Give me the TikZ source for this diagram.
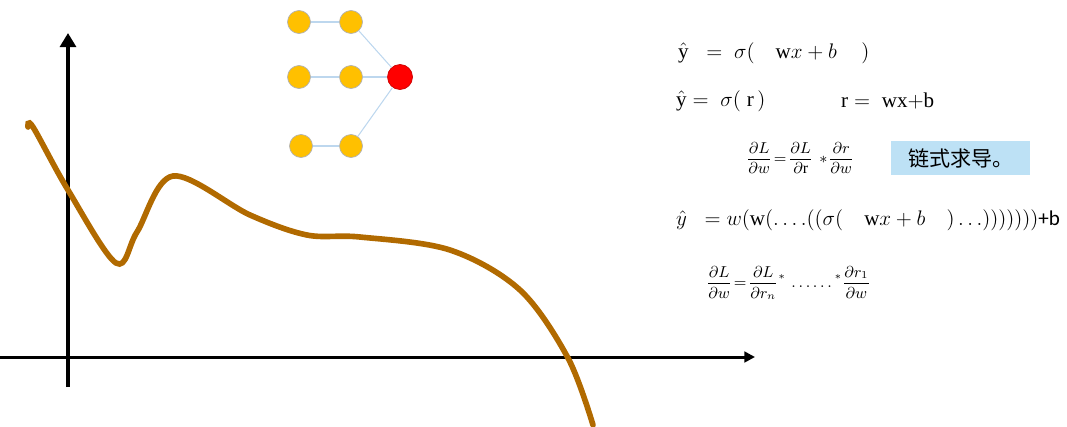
\documentclass[tikz,border=0pt]{standalone}
\usepackage{amsmath, amssymb}
\usepackage{fontspec}
\setmainfont{Liberation Serif}
\newfontfamily\cjkfont{Noto Sans CJK SC}
\newfontfamily\calfont{Carlito}
\usepackage{xcolor}
\usetikzlibrary{arrows.meta}
\definecolor{curvebrown}{RGB}{177,106,0}
\definecolor{neuronyellow}{RGB}{255,192,0}
\definecolor{linkblue}{RGB}{189,215,238}
\definecolor{boxblue}{RGB}{189,225,245}
\begin{document}
\begin{tikzpicture}
                    [x=0.02cm, y=-0.02cm, every node/.style={font=\large}, >=stealth,
                     neuron/.style={circle, fill=neuronyellow, draw=gray!60, minimum size=0.46cm, inner sep=0pt},
                     outneuron/.style={circle, fill=red, draw=red!80!black, minimum size=0.5cm, inner sep=0pt},
                     link/.style={draw=linkblue, line width=0.6pt},
                     fracrow/.style={anchor=west, font=\small}]
                    \useasboundingbox (0,0) rectangle (1067,426);
                    % axes
                    \coordinate (xs) at (0,357);
                    \coordinate (xe) at (755,357);
                    \coordinate (ys) at (68,387);
                    \coordinate (ye) at (68,33);
                    \draw[line width=1.7pt, -{Triangle[length=6pt,width=6pt]}] (xs) -- (xe);
                    \draw[line width=2.6pt, -{Triangle[length=8pt,width=9pt]}] (ys) -- (ye);
                    % loss curve
                    \draw[curvebrown, line width=3.2pt, line cap=round] plot[smooth, tension=0.55] coordinates
                        {(28,127) (33,127) (68,190) (116,263) (137,232) (173,176) (250,215) (307,235)
                         (360,237) (450,250) (520,290) (568,358) (593,425)};
                    % network
                    \node[neuron] (a1) at (299,22) {};
                    \node[neuron] (b1) at (351,22) {};
                    \node[neuron] (a2) at (299,77) {};
                    \node[neuron] (b2) at (351,77) {};
                    \node[neuron] (a3) at (301,146) {};
                    \node[neuron] (b3) at (351,146) {};
                    \node[outneuron] (o) at (400,77) {};
                    \draw[link] (a1) -- (b1);
                    \draw[link] (a2) -- (b2);
                    \draw[link] (a3) -- (b3);
                    \draw[link] (b1) -- (o);
                    \draw[link] (b2) -- (o);
                    \draw[link] (b3) -- (o);
                    % formulas
                    \node[anchor=west] (eqa) at (672,53) {$\hat{\mathrm{y}}\;\;=\;\sigma(\quad\mathrm{w}x+b\quad\,)$};
                    \node[anchor=west] (eqb) at (670,101) {$\hat{\mathrm{y}}=\;\sigma(\;\mathrm{r}\,)$};
                    \node[anchor=west] (eqc) at (835,101) {$\mathrm{r}=\;\mathrm{wx{+}b}$};
                    \node[fracrow] (eqd) at (740,158) {$\displaystyle\frac{\partial L}{\partial w}\!=\!\frac{\partial L}{\partial\mathrm{r}}\,*\!\frac{\partial r}{\partial w}$};
                    \node[anchor=west, fill=boxblue, minimum width=2.78cm, minimum height=0.7cm, text width=2.5cm, inner sep=0pt] (chain) at (891,158)
                        {\hspace{0.2cm}\cjkfont 链式求导。};
                    \node[anchor=west] (eqe) at (670,220) {$\hat{y}\;\;=w(\mathrm{w}(\ldots.((\sigma(\quad\mathrm{w}x+b\quad)\ldots)))))))${\calfont +b}};
                    \node[fracrow] (eqf) at (700,283) {$\displaystyle\frac{\partial L}{\partial w}\!=\!\frac{\partial L}{\partial r_n}{}^*\,\ldots\ldots{}^*\frac{\partial r_1}{\partial w}$};
                \end{tikzpicture}
\end{document}
